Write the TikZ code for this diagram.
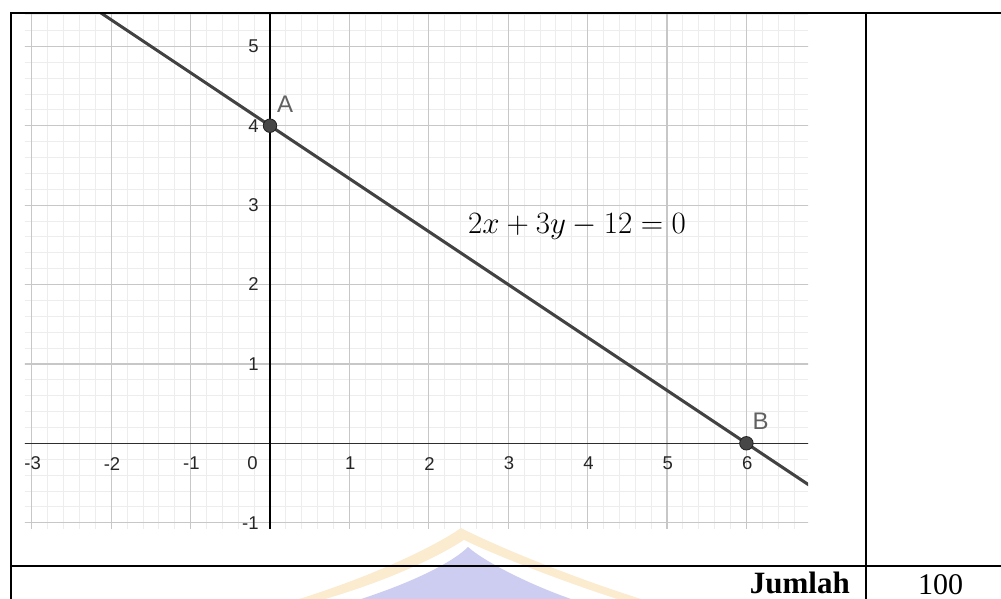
\RequirePackage{fix-cm}
\documentclass[tikz,border=0pt]{standalone}
\usepackage{fontspec}
\newfontfamily\labelfont{Liberation Sans}
\newfontfamily\tablefont{Liberation Serif}
\definecolor{wmorange}{HTML}{F9E4BF}
\definecolor{wmblue}{HTML}{CDCDF1}
\begin{document}
\begin{tikzpicture}[x=1pt,y=-1pt,
  minorgrid/.style={draw=black!7, line width=0.8pt},
  majorgrid/.style={draw=black!22, line width=1.2pt},
  ticklbl/.style={font=\labelfont\fontsize{18.5}{18.5}\selectfont, text=black!85, inner sep=0pt},
  ptlbl/.style={font=\labelfont\fontsize{24}{24}\selectfont, text=black!62, inner sep=0pt},
  ptdot/.style={circle, fill=black!72, draw=black!88, line width=0.8pt, minimum size=13.5pt, inner sep=0pt},
  tableline/.style={line width=2pt, draw=black},
  graphline/.style={line width=3pt, draw=black!74},
]
\useasboundingbox (0,0) rectangle (1001,599);
\clip (0,0) rectangle (1001,599);
% watermark
\fill[wmorange, opacity=0.75] (296,600) .. controls (380,574) and (440,543) .. (461,528)
  .. controls (490,543) and (562,574) .. (644,600) -- cycle;
\fill[white] (322,600) .. controls (398,578) and (446,552) .. (464,540)
  .. controls (488,552) and (552,578) .. (620,600) -- cycle;
\fill[wmblue] (358,600) .. controls (420,580) and (455,560) .. (468,547)
  .. controls (485,562) and (530,585) .. (574,600) -- cycle;
% graph
\begin{scope}[shift={(270,443.3)}, x=79.4pt, y=79.4pt]
  \clip (-3.086,-1.0705) rectangle (6.776,5.42);
  \foreach \i in {-15,...,33} \draw[minorgrid] (\i/5,-1.2) -- (\i/5,5.5);
  \foreach \j in {-5,...,27} \draw[minorgrid] (-3.2,\j/5) -- (6.9,\j/5);
  \foreach \i in {-3,...,6} \draw[majorgrid] (\i,-1.2) -- (\i,5.5);
  \foreach \j in {-1,...,5} \draw[majorgrid] (-3.2,\j) -- (6.9,\j);
  \coordinate (xaxL) at (-3.2,0);
  \coordinate (xaxR) at (6.9,0);
  \coordinate (yaxB) at (0,-1.2);
  \coordinate (yaxT) at (0,5.5);
  \draw[line width=1.3pt, draw=black!82] (xaxL) -- (xaxR);
  \draw[line width=1.1pt, draw=black] (yaxB) -- (yaxT);
  \foreach \i in {-3,-2,-1,1,2,3,4,5,6} \node[ticklbl] (xl\i) at (\i+0.01,-0.255) {\i};
  \node[ticklbl] (xl0) at (-0.22,-0.255) {0};
  \foreach \j in {-1,1,2,3,4,5} \node[ticklbl, anchor=east] (yl\j) at (-0.14,\j) {\j};
  \coordinate (L1) at (-2.4,5.6);
  \coordinate (L2) at (7.0,-0.6667);
  \draw[graphline] (L1) -- (L2);
  \node[ptdot] (A) at (0,4) {};
  \node[ptdot] (B) at (6,0) {};
  \node[ptlbl] (Alab) at (0.189,4.273) {A};
  \node[ptlbl] (Blab) at (6.178,0.275) {B};
  \node[anchor=base west, inner sep=0pt, font=\fontsize{31}{31}\selectfont] (eq) at (2.494,2.645) {$2x+3y-12=0$};
\end{scope}
% table
\coordinate (T1) at (11,13);
\coordinate (T2) at (1003,13);
\coordinate (T3) at (11,601);
\coordinate (D1) at (865.7,13);
\coordinate (D2) at (865.7,601);
\coordinate (H1) at (11,565.7);
\coordinate (H2) at (1003,565.7);
\draw[tableline] (T3) -- (T1) -- (T2);
\draw[tableline] (D1) -- (D2);
\draw[tableline] (H1) -- (H2);
\node[anchor=base east, inner sep=0pt, font=\tablefont\bfseries\fontsize{31}{31}\selectfont] (jumlah) at (850,593) {Jumlah};
\node[anchor=base, inner sep=0pt, font=\tablefont\fontsize{30}{30}\selectfont] (total) at (940.5,594) {100};
\end{tikzpicture}
\end{document}
